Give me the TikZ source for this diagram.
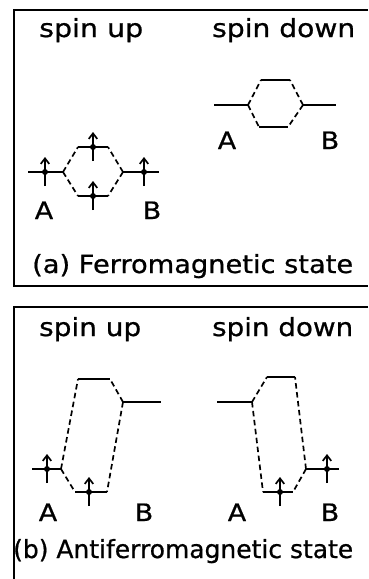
\documentclass[tikz,border=0pt]{standalone}
\usepackage{fontspec}
\usepackage{graphicx}
\setmainfont[FakeBold=0.7]{DejaVu Sans}
\usetikzlibrary{arrows.meta}
\tikzset{
  lvl/.style={line width=2.1pt},
  dsh/.style={line width=1.7pt, dash pattern=on 5.5pt off 3.5pt},
  frame/.style={line width=1.8pt},
  spinarr/.style={line width=1.7pt, -{Straight Barb[length=5.5pt,width=8.5pt,line width=1.7pt]}},
  dotc/.style={circle, fill=black, inner sep=0pt, minimum size=6pt},
  lab/.style={anchor=base, inner sep=0pt, font=\fontsize{24}{24}\selectfont},
  head/.style={anchor=base west, inner sep=0pt, font=\fontsize{25}{25}\selectfont},
  capt/.style={anchor=base west, inner sep=0pt, font=\fontsize{25}{25}\selectfont},
}
\newcommand\wfit[2]{\resizebox{#1}{\height}{#2}}
\newcommand\wide[1]{\scalebox{1.12}[1]{#1}}
\newcommand\spinat[2]{% name, coordinate
  \node[dotc] (#1) at (#2) {};
  \draw[spinarr] ([yshift=-14pt]#1.center) -- ([yshift=15pt]#1.center);
}
\begin{document}
\begin{tikzpicture}[x=1pt,y=-1pt]
\useasboundingbox (0,0) rectangle (368,579);
% frames
\draw[frame] (368,10) -- (14,10) -- (14,286) -- (368,286);
\draw[frame] (368,307) -- (14,307) -- (14,579);

% ---------- (a) ----------
\node[head] (ta1) at (39,37) {\wfit{104pt}{spin up}};
\node[head] (ta2) at (212,37) {\wfit{143pt}{spin down}};
\node[capt] (ca) at (32,273) {\wfit{321pt}{(a) Ferromagnetic state}};

% spin up (a)
\coordinate (a1l) at (28,172);  \coordinate (a1r) at (63,172);
\coordinate (u1l) at (78,147);  \coordinate (u1r) at (108,147);
\coordinate (d1l) at (78,196);  \coordinate (d1r) at (108,196);
\coordinate (b1l) at (123,172); \coordinate (b1r) at (159,172);
\draw[lvl] (a1l) -- (a1r);
\draw[lvl] (u1l) -- (u1r);
\draw[lvl] (d1l) -- (d1r);
\draw[lvl] (b1l) -- (b1r);
\draw[dsh] (a1r) -- (u1l);
\draw[dsh] (a1r) -- (d1l);
\draw[dsh] (b1l) -- (u1r);
\draw[dsh] (b1l) -- (d1r);
\spinat{sa1}{45,172}
\spinat{sa2}{93,147}
\spinat{sa3}{93,196}
\spinat{sa4}{144,172}
\node[lab] (la1) at (44,219) {\wide{A}};
\node[lab] (lb1) at (152,219) {\wide{B}};

% spin down (a)
\coordinate (a2l) at (214,105); \coordinate (a2r) at (248,105);
\coordinate (u2l) at (261,80);  \coordinate (u2r) at (290,80);
\coordinate (d2l) at (259,127); \coordinate (d2r) at (288,127);
\coordinate (b2l) at (303,105); \coordinate (b2r) at (336,105);
\draw[lvl] (a2l) -- (a2r);
\draw[lvl] (u2l) -- (u2r);
\draw[lvl] (d2l) -- (d2r);
\draw[lvl] (b2l) -- (b2r);
\draw[dsh] (a2r) -- (u2l);
\draw[dsh] (a2r) -- (d2l);
\draw[dsh] (b2l) -- (u2r);
\draw[dsh] (b2l) -- (d2r);
\node[lab] (la2) at (227,149) {\wide{A}};
\node[lab] (lb2) at (330,149) {\wide{B}};

% ---------- (b) ----------
\node[head] (tb1) at (39,336) {\wfit{102pt}{spin up}};
\node[head] (tb2) at (212,336) {\wfit{141pt}{spin down}};
\node[capt] (cb) at (13,558) {\wfit{340pt}{(b) Antiferromagnetic state}};

% spin up (b)
\coordinate (a3l) at (32,469);  \coordinate (a3r) at (61,469);
\coordinate (d3l) at (75,492);  \coordinate (d3r) at (107,492);
\coordinate (u3l) at (78,379);  \coordinate (u3r) at (110,379);
\coordinate (b3l) at (123,402); \coordinate (b3r) at (161,402);
\draw[lvl] (a3l) -- (a3r);
\draw[lvl] (u3l) -- (u3r);
\draw[lvl] (d3l) -- (d3r);
\draw[lvl] (b3l) -- (b3r);
\draw[dsh] (a3r) -- (u3l);
\draw[dsh] (a3r) -- (d3l);
\draw[dsh] (b3l) -- (u3r);
\draw[dsh] (b3l) -- (d3r);
\spinat{sb1}{47,469}
\spinat{sb2}{89,492}
\node[lab] (la3) at (48,521) {\wide{A}};
\node[lab] (lb3) at (144,521) {\wide{B}};

% spin down (b)
\coordinate (a4l) at (217,402); \coordinate (a4r) at (252,402);
\coordinate (u4l) at (267,377); \coordinate (u4r) at (295,377);
\coordinate (d4l) at (263,492); \coordinate (d4r) at (293,492);
\coordinate (b4l) at (306,469); \coordinate (b4r) at (339,469);
\draw[lvl] (a4l) -- (a4r);
\draw[lvl] (u4l) -- (u4r);
\draw[lvl] (d4l) -- (d4r);
\draw[lvl] (b4l) -- (b4r);
\draw[dsh] (a4r) -- (u4l);
\draw[dsh] (a4r) -- (d4l);
\draw[dsh] (b4l) -- (u4r);
\draw[dsh] (b4l) -- (d4r);
\spinat{sc1}{280,492}
\spinat{sc2}{327,469}
\node[lab] (la4) at (237,521) {\wide{A}};
\node[lab] (lb4) at (330,521) {\wide{B}};
\end{tikzpicture}
\end{document}
